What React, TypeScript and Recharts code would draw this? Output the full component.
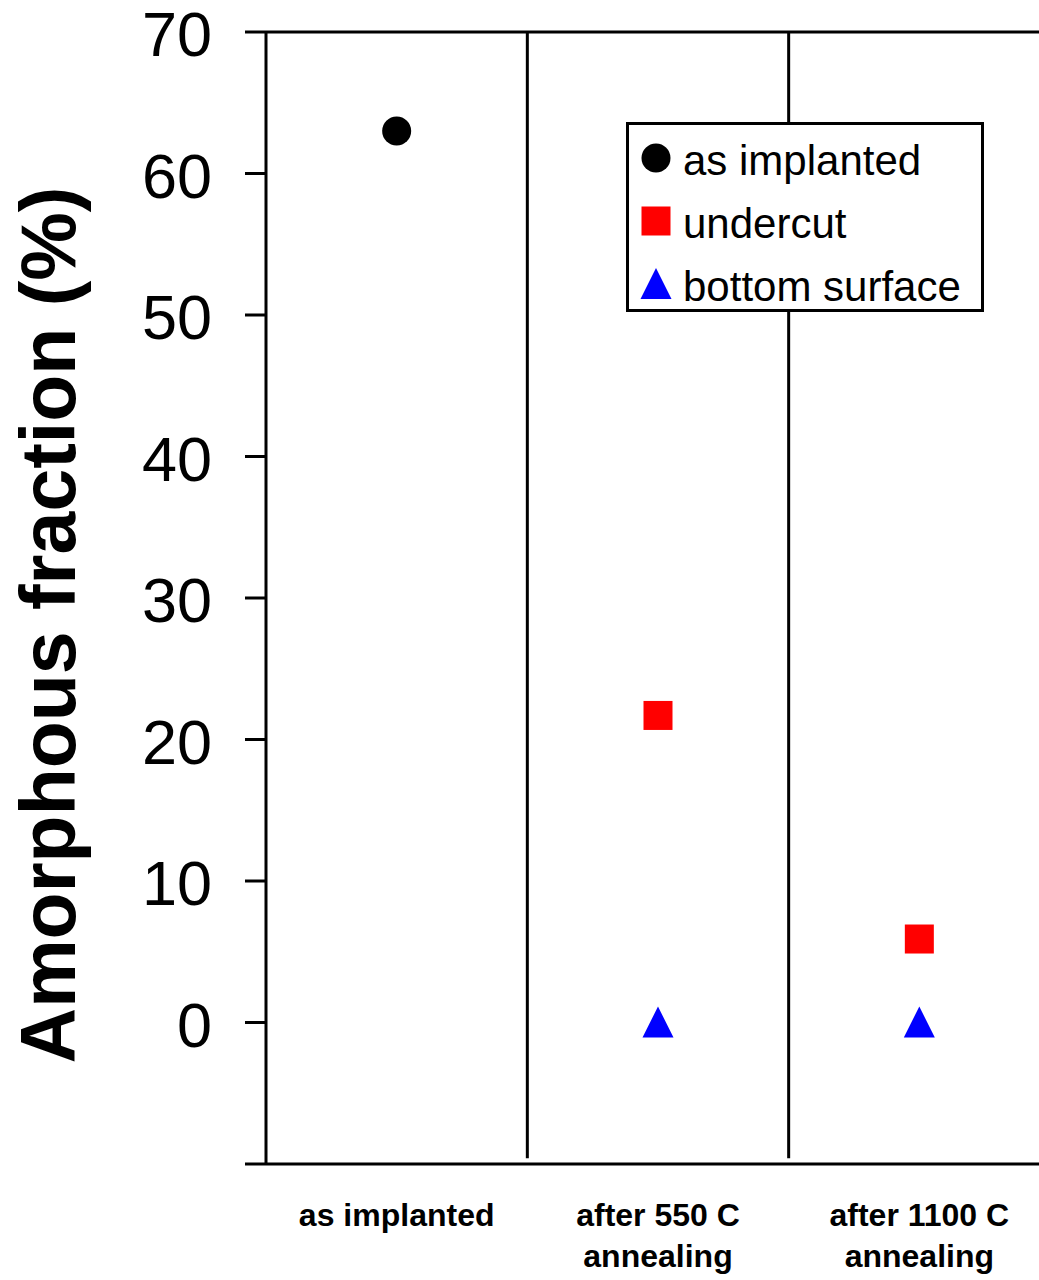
import React from 'react'
import {
  ScatterChart,
  Scatter,
  XAxis,
  YAxis,
  ReferenceLine,
  Legend,
} from 'recharts'

// categories along the x axis (each entry is the lines of its label)
const categories = [['as implanted'], ['after 550 C', 'annealing'], ['after 1100 C', 'annealing']]

// amorphous fraction (%) per category, null = not measured
const asImplanted = [63, null, null]
const undercut = [null, 21.7, 5.9]
const bottomSurface = [null, 0, 0]

const yTicks = [-10, 0, 10, 20, 30, 40, 50, 60, 70]

const FONT = "'Liberation Sans', Arial, Helvetica, sans-serif"

const toPoints = (values: Array<number | null>) =>
  values
    .map((v, i) => (v === null ? null : { x: i + 0.5, y: v }))
    .filter((p) => p !== null) as Array<{ x: number; y: number }>

const series = [
  { name: 'as implanted', data: toPoints(asImplanted), color: '#000000', shape: 'circle' },
  { name: 'undercut', data: toPoints(undercut), color: '#ff0000', shape: 'square' },
  { name: 'bottom surface', data: toPoints(bottomSurface), color: '#0000ff', shape: 'triangle' },
]

const Marker = ({ cx, cy, shape, color }: any) => {
  if (shape === 'circle') return <circle cx={cx} cy={cy} r={14.5} fill={color} />
  if (shape === 'square') return <rect x={cx - 14.5} y={cy - 14.5} width={29} height={29} fill={color} />
  return (
    <polygon
      points={`${cx},${cy - 16} ${cx + 15.5},${cy + 15} ${cx - 15.5},${cy + 15}`}
      fill={color}
    />
  )
}

const YTick = ({ x, y, payload }: any) => {
  if (payload.value === -10) return null
  return (
    <text x={x} y={y + 2} textAnchor="end" dominantBaseline="central" fontSize={63} fontFamily={FONT} fill="#000">
      {payload.value}
    </text>
  )
}

const XTick = ({ x, y, payload }: any) => {
  const lines = categories[Math.floor(payload.value)] || []
  return (
    <g>
      {lines.map((line, i) => (
        <text
          key={i}
          x={x}
          y={y + 54 + i * 41}
          textAnchor="middle"
          fontSize={32}
          fontWeight="bold"
          fontFamily={FONT}
          fill="#000"
        >
          {line}
        </text>
      ))}
    </g>
  )
}

const YTitle = ({ viewBox }: any) => {
  const cx = viewBox.x + 75
  const cy = viewBox.y + viewBox.height / 2 + 27
  return (
    <text
      x={cx}
      y={cy}
      transform={`rotate(-90, ${cx}, ${cy})`}
      textAnchor="middle"
      fontSize={77}
      fontWeight="bold"
      fontFamily={FONT}
      fill="#000"
    >
      Amorphous fraction (%)
    </text>
  )
}

const LegendBox = () => (
  <div
    style={{
      boxSizing: 'border-box',
      width: 358,
      height: 190,
      border: '3px solid #000',
      background: '#fff',
      position: 'relative',
      fontFamily: FONT,
    }}
  >
    {series.map((s, i) => (
      <div key={s.name} style={{ position: 'absolute', left: 0, top: 15 + i * 63, height: 36, display: 'flex', alignItems: 'center' }}>
        <svg width={36} height={36} style={{ marginLeft: 9 }}>
          <Marker cx={18} cy={18} shape={s.shape} color={s.color} />
        </svg>
        <span style={{ marginLeft: 9, fontSize: 42, lineHeight: '36px', color: '#000', whiteSpace: 'nowrap', position: 'relative', top: 3 }}>{s.name}</span>
      </div>
    ))}
  </div>
)

export default function App() {
  return (
    <div style={{ position: 'absolute', left: 0, top: 0, width: 1039, height: 1280, overflow: 'hidden', background: '#fff' }}>
      <ScatterChart width={1050} height={1280} margin={{ top: 32, right: 0, bottom: 0, left: 0 }}>
        <XAxis
          type="number"
          dataKey="x"
          domain={[0, 3]}
          ticks={[0.5, 1.5, 2.5]}
          tickLine={false}
          axisLine={{ stroke: '#000', strokeWidth: 3 }}
          tick={<XTick />}
          height={116}
          interval={0}
        />
        <YAxis
          type="number"
          dataKey="y"
          domain={[-10, 70]}
          ticks={yTicks}
          interval={0}
          width={266}
          tickSize={21}
          tickMargin={33}
          tickLine={{ stroke: '#000', strokeWidth: 3 }}
          axisLine={{ stroke: '#000', strokeWidth: 3 }}
          tick={<YTick />}
          label={<YTitle />}
        />
        <ReferenceLine y={70} stroke="#000" strokeWidth={3} />
        <ReferenceLine segment={[{ x: 1, y: 70 }, { x: 1, y: -9.6 }]} stroke="#000" strokeWidth={3} />
        <ReferenceLine segment={[{ x: 2, y: 70 }, { x: 2, y: -9.6 }]} stroke="#000" strokeWidth={3} />
        <Legend
          layout="vertical"
          align="center"
          verticalAlign="middle"
          content={<LegendBox />}
          wrapperStyle={{ left: 626, top: 122, width: 358, height: 190 }}
        />
        {series.map((s) => (
          <Scatter
            key={s.name}
            name={s.name}
            data={s.data}
            fill={s.color}
            isAnimationActive={false}
            shape={(props: any) => <Marker cx={props.cx} cy={props.cy} shape={s.shape} color={s.color} />}
          />
        ))}
      </ScatterChart>
    </div>
  )
}
